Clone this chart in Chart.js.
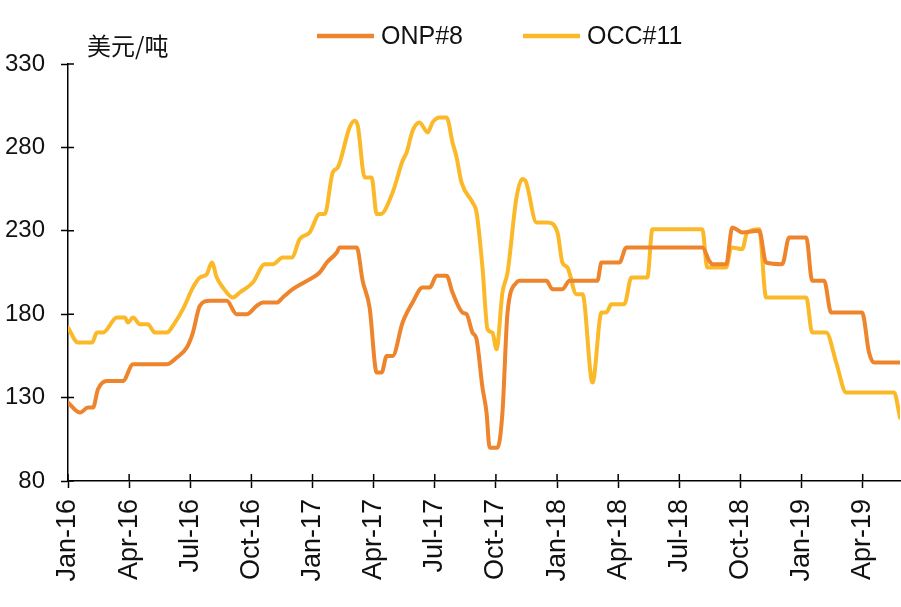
<!DOCTYPE html>
<html>
<head>
<meta charset="utf-8">
<script src="https://cdn.jsdelivr.net/npm/chart.js@4.4.1/dist/chart.umd.min.js"></script>
<style>
  html, body { margin: 0; padding: 0; background: #fff; }
  #wrap { width: 901px; height: 607px; position: relative; }
</style>
</head>
<body>
<div id="wrap"><canvas id="paperPrice"></canvas></div>
<script>
// ONP#8 / OCC#11 price, USD per ton; x = months since Jan 2016
let tickLabels = ["Jan-16", "Apr-16", "Jul-16", "Oct-16", "Jan-17", "Apr-17", "Jul-17",
    "Oct-17", "Jan-18", "Apr-18", "Jul-18", "Oct-18", "Jan-19", "Apr-19"];

let onpMonths = [0, 0.59, 0.98, 1.23, 1.47, 1.91, 2.70, 3.19, 4.85, 5.34, 5.83, 6.13, 6.47, 6.96, 7.79,
    8.28, 8.77, 9.26, 9.56, 10.25, 10.54, 11.03, 11.72, 12.35, 12.70, 13.19, 13.33, 14.17, 14.46, 14.80,
    15.15, 15.39, 15.64, 15.93, 16.42, 16.91, 17.40, 17.75, 18.09, 18.58, 18.87, 19.36, 19.56, 19.85, 20.05,
    20.34, 20.54, 20.69, 21.08, 21.32, 21.57, 22.01, 22.16, 23.48, 23.77, 24.26, 24.61, 25.98, 26.18, 27.06,
    27.40, 31.13, 31.47, 31.62, 32.30, 32.60, 33.09, 33.92, 34.26, 35.05, 35.39, 36.23, 36.52, 37.11, 37.45,
    38.97, 39.31, 39.56, 40.83];
let onpValues = [127, 121, 124, 124, 135, 140, 140, 150, 150, 154, 160, 169, 185, 188, 188,
    180, 180, 185, 187, 187, 190, 195, 200, 205, 211, 217, 220, 220, 200, 184,
    145, 145, 155, 155, 175, 187, 196, 196, 203, 203, 193, 181, 180, 169, 165,
    136, 121, 100, 100, 121, 181, 199, 200, 200, 195, 195, 200, 200, 211, 211,
    220, 220, 212, 210, 210, 232, 229, 230, 211, 210, 226, 226, 200, 200, 181,
    181, 157, 151, 151];

let occMonths = [0, 0.49, 1.18, 1.42, 1.72, 2.40, 2.79, 2.94, 3.19, 3.53, 3.92, 4.26, 4.85, 5.25, 5.64,
    6.13, 6.47, 6.81, 7.06, 7.30, 7.60, 8.09, 8.43, 9.07, 9.66, 10.05, 10.54, 10.98, 11.37, 11.86,
    12.35, 12.60, 12.99, 13.24, 13.82, 14.07, 14.22, 14.56, 14.90, 15.15, 15.34, 15.93, 16.42, 16.62, 16.91,
    17.25, 17.65, 17.89, 18.24, 18.58, 18.87, 19.07, 19.31, 19.85, 20.05, 20.34, 20.59, 20.83, 21.03, 21.32,
    21.57, 22.01, 22.30, 22.45, 22.99, 23.53, 24.02, 24.26, 24.51, 24.95, 25.25, 25.74, 26.18, 26.42, 26.67,
    27.30, 27.65, 28.43, 28.68, 31.13, 31.37, 32.30, 32.55, 33.09, 33.33, 33.92, 34.26, 36.23, 36.52, 37.21,
    37.70, 38.19, 40.54, 40.83];
let occValues = [172, 163, 163, 169, 169, 178, 178, 175, 178, 174, 174, 169, 169, 175, 183,
    196, 202, 204, 211, 202, 196, 190, 193, 199, 210, 210, 214, 214, 225, 229,
    240, 240, 265, 268, 292, 296, 293, 262, 262, 240, 240, 253, 272, 277, 290,
    295, 289, 295, 298, 298, 283, 274, 259, 247, 241, 208, 171, 169, 159, 193,
    205, 250, 261, 260, 235, 235, 229, 211, 208, 192, 192, 139, 181, 181, 186,
    186, 202, 202, 231, 231, 208, 208, 220, 219, 229, 231, 190, 190, 169, 169,
    151, 133, 133, 118];

const sans = "'Liberation Sans', Arial, sans-serif";
const toPoints = (xs, ys) => xs.map((x, i) => ({ x: x, y: ys[i] }));

// little tick stubs on the inside of both axes + unit label + legend
const extras = {
    id: 'extras',
    afterDraw(chart) {
        const ctx = chart.ctx;
        const area = chart.chartArea;
        const xs = chart.scales.x, ys = chart.scales.y;
        ctx.save();
        ctx.strokeStyle = '#000';
        ctx.lineWidth = 1.5;
        ctx.beginPath();
        ys.ticks.forEach(t => {
            const py = ys.getPixelForValue(t.value);
            ctx.moveTo(area.left, py);
            ctx.lineTo(area.left + 6, py);
        });
        xs.ticks.forEach(t => {
            const px = xs.getPixelForValue(t.value);
            ctx.moveTo(px, area.bottom);
            ctx.lineTo(px, area.bottom - 7);
        });
        ctx.stroke();

        ctx.fillStyle = '#111';
        ctx.font = "24px 'Noto Sans CJK SC', sans-serif";
        ctx.textBaseline = 'middle';
        ctx.textAlign = 'left';
        ctx.fillText('美元/吨', area.left + 19, area.top - 18);

        // legend
        ctx.font = '25px ' + sans;
        let lx = 317;
        const ly = 36;
        chart.data.datasets.forEach(ds => {
            ctx.strokeStyle = ds.borderColor;
            ctx.lineWidth = 4.5;
            ctx.beginPath();
            ctx.moveTo(lx, ly);
            ctx.lineTo(lx + 57, ly);
            ctx.stroke();
            ctx.fillStyle = '#111';
            ctx.fillText(ds.label, lx + 64, ly + 1);
            lx += 64 + ctx.measureText(ds.label).width + 60;
        });
        ctx.restore();
    }
};

const ct1 = document.getElementById('paperPrice').getContext('2d');
const paperPrice = new Chart(ct1, {
    type: 'line',
    data: {
        datasets: [{
            label: 'ONP#8',
            data: toPoints(onpMonths, onpValues),
            borderColor: '#EE842C',
            backgroundColor: '#EE842C',
            borderWidth: 4,
            pointRadius: 0,
            cubicInterpolationMode: 'monotone',
            borderJoinStyle: 'round',
            borderCapStyle: 'round'
        }, {
            label: 'OCC#11',
            data: toPoints(occMonths, occValues),
            borderColor: '#FBB929',
            backgroundColor: '#FBB929',
            borderWidth: 4,
            pointRadius: 0,
            cubicInterpolationMode: 'monotone',
            borderJoinStyle: 'round',
            borderCapStyle: 'round'
        }]
    },
    options: {
        responsive: true,
        maintainAspectRatio: false,
        animation: false,
        layout: {
            padding: { top: 64, right: 1, left: 0, bottom: 0 }
        },
        scales: {
            x: {
                type: 'linear',
                min: 0,
                max: 40.83,
                afterBuildTicks: scale => {
                    scale.ticks = tickLabels.map((_, i) => ({ value: i * 3 }));
                },
                afterFit: scale => {
                    scale.height = 126;
                    scale.paddingLeft = 0;
                    scale.paddingRight = 0;
                },
                grid: {
                    drawOnChartArea: false,
                    tickLength: 7,
                    tickWidth: 1.5,
                    color: '#000'
                },
                border: { color: '#000', width: 1.5 },
                ticks: {
                    autoSkip: false,
                    maxRotation: 90,
                    minRotation: 90,
                    padding: 11,
                    color: '#111',
                    font: { family: sans, size: 27 },
                    callback: v => tickLabels[Math.round(v / 3)]
                }
            },
            y: {
                min: 80,
                max: 330,
                afterFit: scale => { scale.width = 68; },
                grid: {
                    drawOnChartArea: false,
                    tickLength: 7,
                    tickWidth: 1.5,
                    color: '#000'
                },
                border: { color: '#000', width: 1.5 },
                ticks: {
                    stepSize: 50,
                    padding: 16,
                    color: '#111',
                    font: { family: sans, size: 24 }
                }
            }
        },
        plugins: {
            legend: { display: false },
            tooltip: { enabled: false }
        }
    },
    plugins: [extras]
});
</script>
</body>
</html>
